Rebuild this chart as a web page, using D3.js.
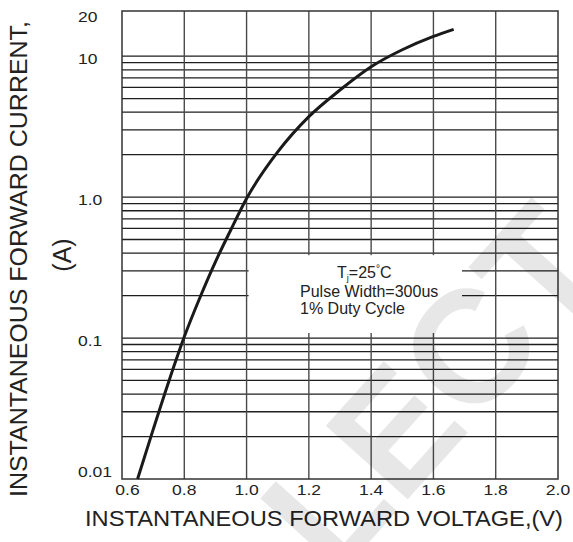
<!DOCTYPE html>
<html><head><meta charset="utf-8">
<script src="https://cdn.jsdelivr.net/npm/d3@7"></script>
<style>html,body{margin:0;padding:0;background:#fff;} svg{display:block;font-family:"Liberation Sans",Arial,sans-serif;}</style>
</head><body><svg id="chart" width="573" height="542"></svg>
<script>
// ---- data ----
const voltage = [0.65, 0.70, 0.75, 0.80, 0.85, 0.90, 0.95, 1.00, 1.10, 1.20, 1.30, 1.40, 1.50, 1.60, 1.665];
const current = [0.010, 0.0224, 0.049, 0.102, 0.193, 0.347, 0.589, 0.977, 2.09, 3.72, 5.75, 8.41, 11.1, 13.8, 15.5];
const xTicks = [0.6, 0.8, 1.0, 1.2, 1.4, 1.6, 1.8, 2.0];
const xTickLabels = ["0.6", "0.8", "1.0", "1.2", "1.4", "1.6", "1.8", "2.0"];
const yTicks = [0.01, 0.1, 1, 10, 20];
const yTickLabels = ["0.01", "0.1", "1.0", "10", "20"];
const minorMultipliers = [2, 3, 4, 5, 6, 7, 8, 9];
const decades = [0.01, 0.1, 1];
const noteLines = ["Pulse Width=300us", "1% Duty Cycle"];
const xTitle = "INSTANTANEOUS FORWARD VOLTAGE,(V)";
const yTitle = ["INSTANTANEOUS FORWARD CURRENT,", "(A)"];
const watermark = "LECT";

// ---- layout ----
const L = 122, R = 558, T = 11, B = 479;
const svg = d3.select("#chart");
const x = d3.scaleLinear().domain([0.6, 2.0]).range([L, R]);
const y = d3.scaleLog().domain([0.01, 20.9]).range([B, T]);

// horizontal grid values
const hVals = [];
decades.forEach(d => { hVals.push(d); minorMultipliers.forEach(m => hVals.push(m * d)); });
hVals.push(10);

const grid = svg.append("g");
grid.selectAll("line.h").data(hVals.filter(v => v > 0.01)).join("line")
  .attr("x1", L).attr("x2", R)
  .attr("y1", d => y(d)).attr("y2", d => y(d))
  .attr("stroke", "#1e1e1e").attr("stroke-width", 1.3);
grid.selectAll("line.v").data(xTicks.slice(1, -1)).join("line")
  .attr("x1", d => x(d)).attr("x2", d => x(d))
  .attr("y1", T).attr("y2", B)
  .attr("stroke", "#4a4a4a").attr("stroke-width", 1.4);

// note box (white, interrupts grid)
svg.append("rect").attr("x", x(1.0) + 2).attr("y", y(0.4) + 2)
  .attr("width", 462 - (x(1.0) + 2)).attr("height", 333 - (y(0.4) + 2))
  .attr("fill", "#fff");

// frame
svg.append("rect").attr("x", L).attr("y", T).attr("width", R - L).attr("height", B - T)
  .attr("fill", "none").attr("stroke", "#333").attr("stroke-width", 1.5);

// curve
const pts = voltage.map((v, i) => [v, current[i]]);
svg.append("path").datum(pts)
  .attr("d", d3.line().x(d => x(d[0])).y(d => y(d[1])).curve(d3.curveMonotoneX))
  .attr("fill", "none").attr("stroke", "#1a1a1a").attr("stroke-width", 3);

// stretched text helper
function stretch(sel, k) {
  sel.each(function () {
    const w = this.getComputedTextLength();
    d3.select(this).attr("textLength", w * k).attr("lengthAdjust", "spacingAndGlyphs");
  });
}

// x tick labels
svg.append("g").selectAll("text").data(xTicks).join("text")
  .attr("x", d => Math.max(x(d), 127.5)).attr("y", 495)
  .attr("text-anchor", "middle").attr("font-size", 14).attr("fill", "#222")
  .text((d, i) => xTickLabels[i])
  .call(stretch, 1.25);

// y tick labels
svg.append("g").selectAll("text").data(yTicks).join("text")
  .attr("x", 78).attr("y", d => Math.min(y(d) + 8, 477))
  .attr("text-anchor", "start").attr("font-size", 14).attr("fill", "#222")
  .text((d, i) => yTickLabels[i])
  .call(stretch, 1.25);

// note text
const note = svg.append("g").attr("fill", "#222").attr("font-size", 16);
const t1 = note.append("text").attr("x", 337).attr("y", 278);
t1.append("tspan").text("T");
t1.append("tspan").attr("font-size", 9).attr("dy", 3).text("j");
t1.append("tspan").attr("dy", -3).text("=25");
t1.append("tspan").attr("font-size", 10).attr("dy", -6).text("°");
t1.append("tspan").attr("dy", 6).text("C");
note.selectAll("text.l").data(noteLines).join("text")
  .attr("x", 300).attr("y", (d, i) => 297 + i * 17).text(d => d);

// axis titles
svg.append("text").attr("x", 85).attr("y", 526).attr("font-size", 22).attr("fill", "#222")
  .attr("textLength", 478).attr("lengthAdjust", "spacingAndGlyphs").text(xTitle);
svg.append("text").attr("transform", "translate(27,497) rotate(-90)")
  .attr("font-size", 24.5).attr("fill", "#222")
  .attr("textLength", 476).attr("lengthAdjust", "spacingAndGlyphs").text(yTitle[0]);
svg.append("text").attr("transform", "translate(71,255) rotate(-90)")
  .attr("text-anchor", "middle").attr("font-size", 25).attr("fill", "#222").text(yTitle[1]);

// watermark
svg.append("text").attr("transform", "translate(335,580) rotate(-48)")
  .attr("font-size", 160).attr("font-weight", "bold").attr("fill", "#000").attr("opacity", 0.09)
  .text(watermark);
</script></body></html>
